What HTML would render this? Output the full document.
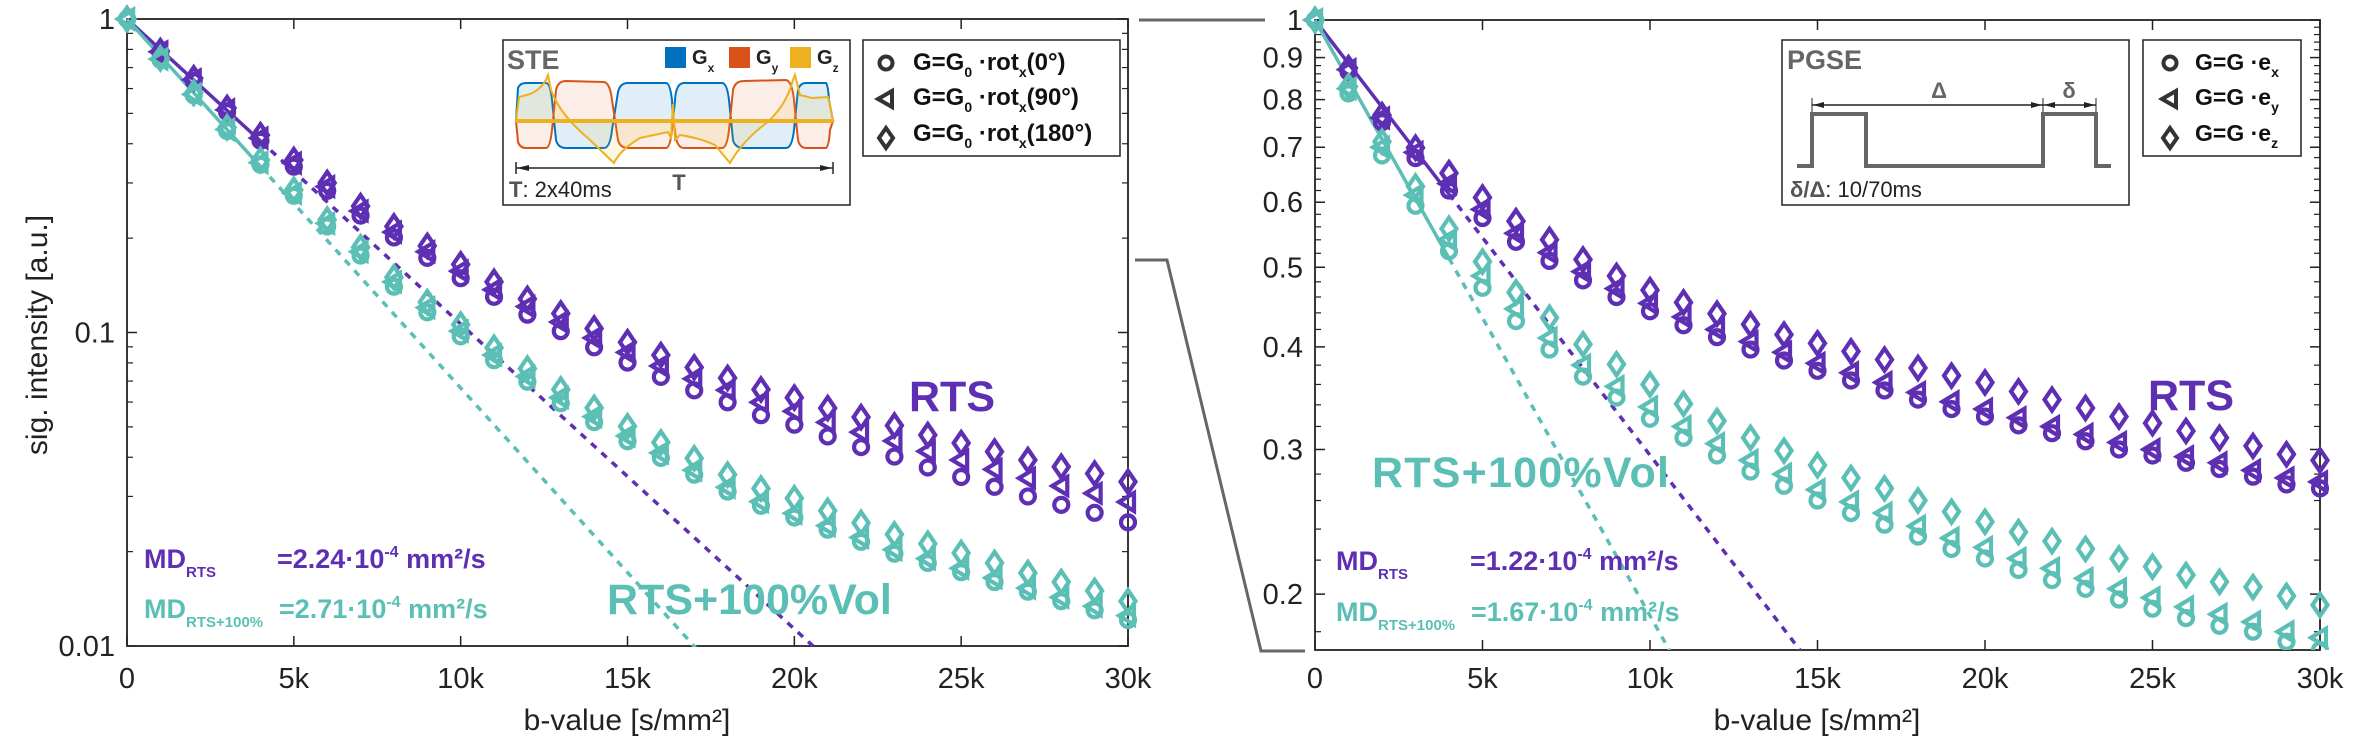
<!DOCTYPE html>
<html><head><meta charset="utf-8"><style>
html,body{margin:0;padding:0;background:#fff;}
svg{display:block;font-family:"Liberation Sans",sans-serif;}
</style></head><body>
<svg id="chart" width="2367" height="748" viewBox="0 0 2367 748" xmlns="http://www.w3.org/2000/svg">
<defs>
<clipPath id="clipL"><rect x="100" y="0" width="1040" height="647"/></clipPath>
<clipPath id="clipR"><rect x="1290" y="0" width="1040" height="650"/></clipPath>
</defs>
<g id="axesL"></g>
<g id="axesR"></g>
<g id="marksL" clip-path="url(#clipL)"></g>
<g id="marksR" clip-path="url(#clipR)"></g>

<!-- connectors -->
<g stroke="#666" stroke-width="3" fill="none">
<polyline points="1139,20 1265,20"/>
<polyline points="1135,260 1167,260 1261,651 1305,651"/>
</g>

<!-- axis titles -->
<text transform="translate(47,335) rotate(-90)" text-anchor="middle" font-size="30" fill="#222">sig. intensity [a.u.]</text>
<text x="627" y="730" text-anchor="middle" font-size="30" fill="#222">b-value [s/mm²]</text>
<text x="1817" y="730" text-anchor="middle" font-size="30" fill="#222">b-value [s/mm²]</text>

<!-- left annotations -->
<text x="909" y="411" font-size="43" font-weight="bold" fill="#5e2fb3">RTS</text>
<text x="607" y="614" font-size="43" font-weight="bold" fill="#5bbfb5">RTS+100%Vol</text>
<text x="144" y="568" font-size="27" font-weight="bold" fill="#5e2fb3">MD<tspan font-size="15" dy="9">RTS</tspan><tspan x="277" dy="-9">=2.24·10</tspan><tspan font-size="16" dy="-11">-4</tspan><tspan dy="11"> mm²/s</tspan></text>
<text x="144" y="618" font-size="27" font-weight="bold" fill="#5bbfb5">MD<tspan font-size="15" dy="9">RTS+100%</tspan><tspan x="279" dy="-9">=2.71·10</tspan><tspan font-size="16" dy="-11">-4</tspan><tspan dy="11"> mm²/s</tspan></text>

<!-- right annotations -->
<text x="2148" y="410" font-size="43" font-weight="bold" fill="#5e2fb3">RTS</text>
<text x="1372" y="487" font-size="43" font-weight="bold" fill="#5bbfb5" textLength="297">RTS+100%Vol</text>
<text x="1336" y="570" font-size="27" font-weight="bold" fill="#5e2fb3">MD<tspan font-size="15" dy="9">RTS</tspan><tspan x="1470" dy="-9">=1.22·10</tspan><tspan font-size="16" dy="-11">-4</tspan><tspan dy="11"> mm²/s</tspan></text>
<text x="1336" y="621" font-size="27" font-weight="bold" fill="#5bbfb5">MD<tspan font-size="15" dy="9">RTS+100%</tspan><tspan x="1471" dy="-9">=1.67·10</tspan><tspan font-size="16" dy="-11">-4</tspan><tspan dy="11"> mm²/s</tspan></text>

<!-- STE inset -->
<g>
<rect x="503" y="40" width="347" height="165" fill="#fff" stroke="#222" stroke-width="1.5"/>
<text x="507" y="69" font-size="27" font-weight="bold" fill="#666">STE</text>
<rect x="665" y="47" width="21" height="21" fill="#0072bd"/>
<text x="692" y="64" font-size="20" font-weight="bold" fill="#222">G<tspan font-size="12" dy="8">x</tspan></text>
<rect x="729" y="47" width="21" height="21" fill="#d95319"/>
<text x="756" y="64" font-size="20" font-weight="bold" fill="#222">G<tspan font-size="12" dy="8">y</tspan></text>
<rect x="790" y="47" width="21" height="21" fill="#edb120"/>
<text x="817" y="64" font-size="20" font-weight="bold" fill="#222">G<tspan font-size="12" dy="8">z</tspan></text>
<path d="M516,121 L518,88 Q520,83 526,83 L546,83 Q550,83 552,100 L556,140 Q558,148 566,148 L604,148 Q610,148 612,130 L618,92 Q620,83 628,83 L666,83 Q670,83 672,100 L673,121 L675,100 Q676,83 684,83 L722,83 Q727,83 729,100 L733,140 Q735,148 744,148 L786,148 Q792,148 794,130 L798,90 Q800,83 806,83 L826,83 Q828,85 829,100 L833,121 Z" fill="rgba(0,114,189,0.12)" stroke="#0072bd" stroke-width="2"/>
<path d="M516,121 L518,142 Q520,148 526,148 L546,148 Q550,148 552,130 L556,90 Q558,81 566,81 L604,82 Q610,83 612,100 L618,140 Q620,148 628,148 L666,148 Q670,148 672,130 L673,121 L675,130 Q676,148 684,148 L722,148 Q727,148 729,130 L733,90 Q735,81 744,81 L786,80 Q792,81 794,100 L798,140 Q800,148 806,148 L826,148 Q829,146 830,130 L833,121 Z" fill="rgba(217,83,25,0.1)" stroke="#d95319" stroke-width="2"/>
<path d="M516,121 L519,97 L530,94 Q540,90 546,80 L548,75 L551,90 Q560,115 590,140 L614,163 Q620,150 640,138 L668,132 L671,138 L673,104 L675,140 L680,135 Q700,138 715,145 L730,163 Q740,145 760,128 Q785,110 793,80 L795,75 L800,95 L812,98 L828,97 L830,105 L833,121 Z" fill="rgba(237,177,32,0.12)" stroke="#edb120" stroke-width="2"/>
<line x1="516" y1="121" x2="833" y2="121" stroke="#edb120" stroke-width="4"/>
<line x1="516" y1="168" x2="833" y2="168" stroke="#222" stroke-width="1.5"/>
<line x1="516" y1="162" x2="516" y2="174" stroke="#222" stroke-width="1.5"/>
<line x1="833" y1="162" x2="833" y2="174" stroke="#222" stroke-width="1.5"/>
<polygon points="517,168 529,165 529,171" fill="#222"/>
<polygon points="832,168 820,165 820,171" fill="#222"/>
<text x="679" y="190" font-size="22" font-weight="bold" fill="#555" text-anchor="middle">T</text>
<text x="509" y="197" font-size="22" fill="#222"><tspan font-weight="bold" fill="#555">T</tspan>: 2x40ms</text>
</g>

<!-- left legend -->
<g>
<rect x="863" y="40" width="257" height="116" fill="#fff" stroke="#222" stroke-width="1.5"/>
<circle cx="886" cy="63" r="6.5" fill="none" stroke="#333" stroke-width="4"/>
<polygon points="878,99 892,91 892,107" fill="none" stroke="#333" stroke-width="4"/>
<polygon points="886,128 893,138 886,148 879,138" fill="none" stroke="#333" stroke-width="4"/>
<text x="913" y="70" font-size="24" font-weight="bold" fill="#111">G=G<tspan font-size="14" dy="7">0</tspan><tspan dy="-7"> ·rot</tspan><tspan font-size="14" dy="7">x</tspan><tspan dy="-7">(0°)</tspan></text>
<text x="913" y="105" font-size="24" font-weight="bold" fill="#111">G=G<tspan font-size="14" dy="7">0</tspan><tspan dy="-7"> ·rot</tspan><tspan font-size="14" dy="7">x</tspan><tspan dy="-7">(90°)</tspan></text>
<text x="913" y="141" font-size="24" font-weight="bold" fill="#111">G=G<tspan font-size="14" dy="7">0</tspan><tspan dy="-7"> ·rot</tspan><tspan font-size="14" dy="7">x</tspan><tspan dy="-7">(180°)</tspan></text>
</g>

<!-- PGSE inset -->
<g>
<rect x="1782" y="40" width="347" height="165" fill="#fff" stroke="#222" stroke-width="1.5"/>
<text x="1787" y="69" font-size="27" font-weight="bold" fill="#666">PGSE</text>
<polyline points="1797,166 1812,166 1812,114 1866,114 1866,166 2043,166 2043,114 2096,114 2096,166 2111,166" fill="none" stroke="#666" stroke-width="4"/>
<line x1="1812" y1="105" x2="2043" y2="105" stroke="#222" stroke-width="1.5"/>
<line x1="2043" y1="105" x2="2096" y2="105" stroke="#222" stroke-width="1.5"/>
<line x1="1812" y1="98" x2="1812" y2="112" stroke="#222" stroke-width="1"/>
<line x1="2043" y1="98" x2="2043" y2="112" stroke="#222" stroke-width="1"/>
<line x1="2096" y1="98" x2="2096" y2="112" stroke="#222" stroke-width="1"/>
<polygon points="1813,105 1824,102 1824,108" fill="#222"/>
<polygon points="2042,105 2031,102 2031,108" fill="#222"/>
<polygon points="2044,105 2055,102 2055,108" fill="#222"/>
<polygon points="2095,105 2084,102 2084,108" fill="#222"/>
<text x="1939" y="98" font-size="22" font-weight="bold" fill="#666" text-anchor="middle">Δ</text>
<text x="2069" y="98" font-size="22" font-weight="bold" fill="#666" text-anchor="middle">δ</text>
<text x="1790" y="197" font-size="22" fill="#222"><tspan font-weight="bold" fill="#555">δ/Δ</tspan>: 10/70ms</text>
</g>

<!-- right legend -->
<g>
<rect x="2143" y="40" width="158" height="116" fill="#fff" stroke="#222" stroke-width="1.5"/>
<circle cx="2170" cy="63" r="6.5" fill="none" stroke="#333" stroke-width="4"/>
<polygon points="2162,99 2176,91 2176,107" fill="none" stroke="#333" stroke-width="4"/>
<polygon points="2170,128 2177,138 2170,148 2163,138" fill="none" stroke="#333" stroke-width="4"/>
<text x="2195" y="70" font-size="23" font-weight="bold" fill="#111">G=G ·e<tspan font-size="14" dy="7">x</tspan></text>
<text x="2195" y="105" font-size="23" font-weight="bold" fill="#111">G=G ·e<tspan font-size="14" dy="7">y</tspan></text>
<text x="2195" y="141" font-size="23" font-weight="bold" fill="#111">G=G ·e<tspan font-size="14" dy="7">z</tspan></text>
</g>
</svg>
<script>
const bValues = [0,1000,2000,3000,4000,5000,6000,7000,8000,9000,10000,11000,12000,13000,14000,15000,16000,17000,18000,19000,20000,21000,22000,23000,24000,25000,26000,27000,28000,29000,30000];
// STE (left)
const steRtsCircle = [1,0.782,0.634,0.505,0.409,0.338,0.283,0.236,0.201,0.173,0.149,0.130,0.114,0.101,0.0897,0.0802,0.0722,0.0654,0.0599,0.0545,0.0508,0.0466,0.0431,0.0402,0.0371,0.0346,0.0322,0.0300,0.0282,0.0266,0.0248];
const steRtsTriangle = [1,0.786,0.640,0.513,0.417,0.347,0.292,0.244,0.209,0.181,0.157,0.137,0.121,0.108,0.0961,0.0864,0.0782,0.0712,0.0655,0.0599,0.0561,0.0517,0.0481,0.0451,0.0418,0.0392,0.0366,0.0343,0.0324,0.0307,0.0288];
const steRtsDiamond = [1,0.790,0.647,0.520,0.426,0.355,0.300,0.253,0.218,0.189,0.165,0.145,0.128,0.115,0.103,0.0931,0.0847,0.0774,0.0716,0.0658,0.0620,0.0574,0.0537,0.0505,0.0471,0.0444,0.0417,0.0392,0.0373,0.0355,0.0334];
const steVolCircle = [1,0.742,0.571,0.439,0.343,0.273,0.218,0.176,0.140,0.116,0.0972,0.0816,0.0697,0.0595,0.0518,0.0450,0.0398,0.0352,0.0311,0.0280,0.0257,0.0235,0.0215,0.0197,0.0184,0.0172,0.0160,0.0149,0.0139,0.0130,0.0121];
const steVolTriangle = [1,0.745,0.575,0.444,0.348,0.278,0.223,0.181,0.145,0.120,0.101,0.0848,0.0724,0.0620,0.0539,0.0468,0.0413,0.0364,0.0321,0.0289,0.0265,0.0242,0.0222,0.0203,0.0190,0.0177,0.0165,0.0153,0.0143,0.0134,0.0125];
const steVolDiamond = [1,0.749,0.581,0.451,0.355,0.285,0.229,0.187,0.150,0.125,0.106,0.0894,0.0767,0.0658,0.0575,0.0502,0.0446,0.0397,0.0352,0.0318,0.0296,0.0270,0.0247,0.0227,0.0212,0.0198,0.0184,0.0171,0.0160,0.0150,0.0139];
const steMD = [2.24e-4, 2.71e-4];
// PGSE (right)
const pgseRtsCircle = [1,0.865,0.751,0.679,0.620,0.574,0.537,0.509,0.482,0.460,0.442,0.425,0.411,0.397,0.385,0.374,0.364,0.354,0.345,0.336,0.329,0.321,0.314,0.307,0.300,0.295,0.289,0.284,0.278,0.272,0.269];
const pgseRtsTriangle = [1,0.870,0.760,0.690,0.632,0.588,0.550,0.521,0.494,0.471,0.452,0.435,0.420,0.406,0.394,0.382,0.372,0.362,0.352,0.343,0.336,0.328,0.320,0.313,0.306,0.300,0.294,0.289,0.283,0.277,0.274];
const pgseRtsDiamond = [1,0.874,0.766,0.699,0.651,0.608,0.569,0.540,0.511,0.488,0.469,0.453,0.439,0.426,0.414,0.404,0.395,0.386,0.377,0.369,0.362,0.353,0.345,0.337,0.329,0.323,0.316,0.310,0.303,0.296,0.291];
const pgseVolCircle = [1,0.814,0.684,0.594,0.523,0.472,0.430,0.397,0.368,0.347,0.327,0.310,0.295,0.282,0.271,0.260,0.251,0.243,0.235,0.227,0.221,0.214,0.208,0.203,0.197,0.192,0.187,0.183,0.180,0.175,0.171];
const pgseVolTriangle = [1,0.825,0.700,0.612,0.540,0.488,0.445,0.410,0.380,0.358,0.338,0.320,0.305,0.291,0.280,0.268,0.259,0.251,0.242,0.234,0.228,0.221,0.215,0.209,0.203,0.198,0.193,0.189,0.185,0.180,0.177];
const pgseVolDiamond = [1,0.830,0.711,0.627,0.557,0.508,0.466,0.434,0.403,0.381,0.360,0.341,0.325,0.310,0.299,0.287,0.277,0.269,0.260,0.252,0.245,0.238,0.232,0.227,0.221,0.216,0.211,0.207,0.204,0.199,0.194];
const pgseMD = [1.22e-4, 1.67e-4];
const xTickValues = [0,5000,10000,15000,20000,25000,30000];
const xTickLabels = ["0","5k","10k","15k","20k","25k","30k"];
const leftYTicks = [1,0.1,0.01];
const leftYTickLabels = ["1","0.1","0.01"];
const rightYTicks = [1,0.9,0.8,0.7,0.6,0.5,0.4,0.3,0.2];
const rightYTickLabels = ["1","0.9","0.8","0.7","0.6","0.5","0.4","0.3","0.2"];

const PURPLE = "#5e2fb3", TEAL = "#5bbfb5";
const NS = "http://www.w3.org/2000/svg";
function mk(tag, attrs, parent){const e=document.createElementNS(NS,tag);for(const k in attrs)e.setAttribute(k,attrs[k]);parent.appendChild(e);return e;}

const L = {x0:127,x1:1128,yTop:19,yBot:646,vMin:0.01,vMax:1,bMax:30000};
const R = {x0:1315,x1:2320,yTop:20,yBot:650,vMin:0.171,vMax:1,bMax:30000};
function xS(p,b){return p.x0+(b/p.bMax)*(p.x1-p.x0);}
function yS(p,v){const a=Math.log10(p.vMax),c=Math.log10(p.vMin);return p.yTop+(a-Math.log10(v))/(a-c)*(p.yBot-p.yTop);}

function drawAxes(p,g,yTicks,yLabels,minor){
  const fr=mk('rect',{x:p.x0,y:p.yTop,width:p.x1-p.x0,height:p.yBot-p.yTop,fill:'none',stroke:'#222','stroke-width':1.8},g);
  
  
  xTickValues.forEach((b,i)=>{
    const x=xS(p,b);
    mk('line',{x1:x,y1:p.yBot,x2:x,y2:p.yBot-10,stroke:'#222','stroke-width':1.5},g);
    mk('line',{x1:x,y1:p.yTop,x2:x,y2:p.yTop+10,stroke:'#222','stroke-width':1.5},g);
    const t=mk('text',{x:x,y:688,'text-anchor':'middle','font-size':29,fill:'#222'},g);
    t.textContent=xTickLabels[i];
    
    
  });
  yTicks.forEach((v,i)=>{
    const y=yS(p,v);
    mk('line',{x1:p.x0,y1:y,x2:p.x0+10,y2:y,stroke:'#222','stroke-width':1.5},g);
    mk('line',{x1:p.x1,y1:y,x2:p.x1-10,y2:y,stroke:'#222','stroke-width':1.5},g);
    const t=mk('text',{x:p.x0-12,y:y+10,'text-anchor':'end','font-size':29,fill:'#222'},g);
    t.textContent=yLabels[i];
    
    
  });
  minor.forEach(v=>{
    const y=yS(p,v);
    if(y<p.yTop+1||y>p.yBot-1)return;
    mk('line',{x1:p.x0,y1:y,x2:p.x0+6,y2:y,stroke:'#222','stroke-width':1.2},g);
    mk('line',{x1:p.x1,y1:y,x2:p.x1-6,y2:y,stroke:'#222','stroke-width':1.2},g);
  });
}
const minorL=[];for(const d of [0.1,0.01])for(let k=2;k<=9;k++)minorL.push(d*k);
const minorR=[];for(let k=18;k<100;k+=2){if(k%10!==0)minorR.push(k/100);}
drawAxes(L,document.getElementById('axesL'),leftYTicks,leftYTickLabels,minorL);
drawAxes(R,document.getElementById('axesR'),rightYTicks,rightYTickLabels,minorR);

function fitLine(p,g,md,color,name){
  const bEnd=Math.min(p.bMax,-Math.log(p.vMin*0.9)/md);
  const s=mk('line',{x1:xS(p,0),y1:yS(p,1),x2:xS(p,4000),y2:yS(p,Math.exp(-md*4000)),stroke:color,'stroke-width':3.5},g);
  
  
  const d=mk('line',{x1:xS(p,4000),y1:yS(p,Math.exp(-md*4000)),x2:xS(p,bEnd),y2:yS(p,Math.exp(-md*bEnd)),stroke:color,'stroke-width':3.5,'stroke-dasharray':'7 7'},g);
  
  
}
function markers(p,g,vals,shape,color,name){
  vals.forEach((v,i)=>{
    const cx=xS(p,bValues[i]),cy=yS(p,v);let e;
    if(shape==='circle')e=mk('circle',{cx:cx,cy:cy,r:7,fill:'none',stroke:color,'stroke-width':4.2},g);
    else if(shape==='triangle')e=mk('polygon',{points:`${cx-9},${cy} ${cx+6},${cy-9} ${cx+6},${cy+9}`,fill:'none',stroke:color,'stroke-width':4.2},g);
    else e=mk('polygon',{points:`${cx},${cy-11} ${cx+7.5},${cy} ${cx},${cy+11} ${cx-7.5},${cy}`,fill:'none',stroke:color,'stroke-width':4.2},g);
    
    
  });
}
const gL=document.getElementById('marksL'), gR=document.getElementById('marksR');
fitLine(L,gL,steMD[0],PURPLE,'rts');
fitLine(L,gL,steMD[1],TEAL,'rts-vol');
markers(L,gL,steRtsCircle,'circle',PURPLE,'ste-rts-0deg-point');
markers(L,gL,steRtsTriangle,'triangle',PURPLE,'ste-rts-90deg-point');
markers(L,gL,steRtsDiamond,'diamond',PURPLE,'ste-rts-180deg-point');
markers(L,gL,steVolCircle,'circle',TEAL,'ste-vol-0deg-point');
markers(L,gL,steVolTriangle,'triangle',TEAL,'ste-vol-90deg-point');
markers(L,gL,steVolDiamond,'diamond',TEAL,'ste-vol-180deg-point');
fitLine(R,gR,pgseMD[0],PURPLE,'rts');
fitLine(R,gR,pgseMD[1],TEAL,'rts-vol');
markers(R,gR,pgseRtsCircle,'circle',PURPLE,'pgse-rts-ex-point');
markers(R,gR,pgseRtsTriangle,'triangle',PURPLE,'pgse-rts-ey-point');
markers(R,gR,pgseRtsDiamond,'diamond',PURPLE,'pgse-rts-ez-point');
markers(R,gR,pgseVolCircle,'circle',TEAL,'pgse-vol-ex-point');
markers(R,gR,pgseVolTriangle,'triangle',TEAL,'pgse-vol-ey-point');
markers(R,gR,pgseVolDiamond,'diamond',TEAL,'pgse-vol-ez-point');
</script>
</body></html>
